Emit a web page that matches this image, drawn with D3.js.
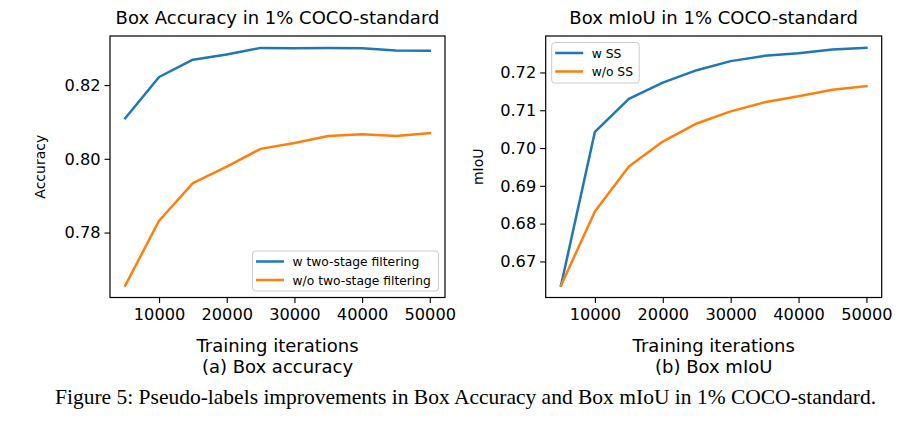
<!DOCTYPE html>
<html>
<head>
<meta charset="utf-8">
<script src="https://cdn.jsdelivr.net/npm/d3@7"></script>
<style>
  body { margin: 0; background: #fff; }
  svg { display: block; }
  text { font-family: "DejaVu Sans", sans-serif; fill: #000; }
</style>
</head>
<body>
<svg id="chart" width="899" height="421"></svg>
<script>
// ---- data ----
const iterations = [5000, 10000, 15000, 20000, 25000, 30000, 35000, 40000, 45000, 50000];
const accWith    = [0.8110, 0.8222, 0.8269, 0.8283, 0.8301, 0.8300, 0.8301, 0.8300, 0.8294, 0.8293];
const accWithout = [0.7656, 0.7832, 0.7934, 0.7979, 0.8027, 0.8043, 0.8062, 0.8067, 0.8062, 0.8070];
const miouWith    = [0.6636, 0.7043, 0.7130, 0.7173, 0.7206, 0.7230, 0.7244, 0.7251, 0.7261, 0.7265];
const miouWithout = [0.6636, 0.6832, 0.6951, 0.7017, 0.7065, 0.7097, 0.7121, 0.7137, 0.7154, 0.7164];
const xTicks = [10000, 20000, 30000, 40000, 50000];
const accTicks = [0.78, 0.80, 0.82];
const miouTicks = [0.67, 0.68, 0.69, 0.70, 0.71, 0.72];

const panels = [
  {
    left: 110, right: 445, top: 36, bottom: 297.5,
    title: "Box Accuracy in 1% COCO-standard",
    ylabel: "Accuracy", ylabelX: 45,
    caption: "(a) Box accuracy",
    series: [accWith, accWithout],
    names: ["w two-stage filtering", "w/o two-stage filtering"],
    yTicks: accTicks, yFmt: d3.format(".2f"),
    legend: { pos: "br", w: 186, h: 40 }
  },
  {
    left: 545.7, right: 881.7, top: 36, bottom: 297.5,
    title: "Box mIoU in 1% COCO-standard",
    ylabel: "mIoU", ylabelX: 483,
    caption: "(b) Box mIoU",
    series: [miouWith, miouWithout],
    names: ["w SS", "w/o SS"],
    yTicks: miouTicks, yFmt: d3.format(".2f"),
    legend: { pos: "tl", w: 87.5, h: 40.5 }
  }
];

const colors = ["#1f77b4", "#ff7f0e"];
const svg = d3.select("#chart");

function padDomain(ext) {
  const m = (ext[1] - ext[0]) * 0.05;
  return [ext[0] - m, ext[1] + m];
}

panels.forEach(p => {
  const g = svg.append("g");
  const x = d3.scaleLinear().domain(padDomain(d3.extent(iterations))).range([p.left, p.right]);
  const allY = p.series.flat();
  const y = d3.scaleLinear().domain(padDomain(d3.extent(allY))).range([p.bottom, p.top]);

  // lines
  const line = d3.line().x((d, i) => x(iterations[i])).y(d => y(d));
  p.series.forEach((s, k) => {
    g.append("path").datum(s)
      .attr("fill", "none").attr("stroke", colors[k])
      .attr("stroke-width", 2.5).attr("stroke-linejoin", "round").attr("stroke-linecap", "square")
      .attr("d", line);
  });

  // axes
  const xAxis = d3.axisBottom(x).tickValues(xTicks).tickSize(5.5).tickPadding(5).tickFormat(d3.format("d"));
  const gx = g.append("g").attr("transform", `translate(0,${p.bottom})`).call(xAxis);
  const yAxis = d3.axisLeft(y).tickValues(p.yTicks).tickSize(5.5).tickPadding(4).tickFormat(p.yFmt);
  const gy = g.append("g").attr("transform", `translate(${p.left},0)`).call(yAxis);
  [gx, gy].forEach(a => {
    a.select(".domain").remove();
    a.selectAll(".tick line").attr("stroke", "#000").attr("stroke-width", 1.1);
    a.selectAll(".tick text").style("font-family", "DejaVu Sans").style("font-size", "16.2px").attr("fill", "#000");
  });

  // frame
  g.append("rect").attr("x", p.left).attr("y", p.top)
    .attr("width", p.right - p.left).attr("height", p.bottom - p.top)
    .attr("fill", "none").attr("stroke", "#000").attr("stroke-width", 1.2);

  const cx = (p.left + p.right) / 2;
  g.append("text").attr("x", cx).attr("y", 24).attr("text-anchor", "middle")
    .style("font-size", "18px").text(p.title);
  g.append("text").attr("x", cx).attr("y", 352).attr("text-anchor", "middle")
    .style("font-size", "18px").text("Training iterations");
  g.append("text").attr("x", cx).attr("y", 372.5).attr("text-anchor", "middle")
    .style("font-size", "18px").text(p.caption);
  g.append("text")
    .attr("transform", `translate(${p.ylabelX},${(p.top + p.bottom) / 2}) rotate(-90)`)
    .attr("text-anchor", "middle").style("font-size", "14px").text(p.ylabel);

  // legend
  const L = p.legend;
  let lx, ly;
  if (L.pos === "br") { lx = p.right - 6.5 - L.w; ly = p.bottom - 6.5 - L.h; }
  else { lx = p.left + 6 ; ly = p.top + 6.5; }
  const lg = g.append("g").attr("transform", `translate(${lx},${ly})`);
  lg.append("rect").attr("width", L.w).attr("height", L.h).attr("rx", 3)
    .attr("fill", "#fff").attr("fill-opacity", 0.8).attr("stroke", "#cccccc").attr("stroke-width", 1);
  p.names.forEach((n, k) => {
    const yy = 10.5 + k * 18.5;
    lg.append("line").attr("x1", 3.5).attr("x2", 31.5).attr("y1", yy).attr("y2", yy)
      .attr("stroke", colors[k]).attr("stroke-width", 2.5);
    lg.append("text").attr("x", 40).attr("y", yy + 4.5).style("font-size", "12.3px").text(n);
  });
});

svg.append("text").attr("x", 465.5).attr("y", 404).attr("text-anchor", "middle")
  .style("font-family", "'Liberation Serif', 'Times New Roman', serif").style("font-size", "21.5px")
  .text("Figure 5: Pseudo-labels improvements in Box Accuracy and Box mIoU in 1% COCO-standard.");
</script>
</body>
</html>
